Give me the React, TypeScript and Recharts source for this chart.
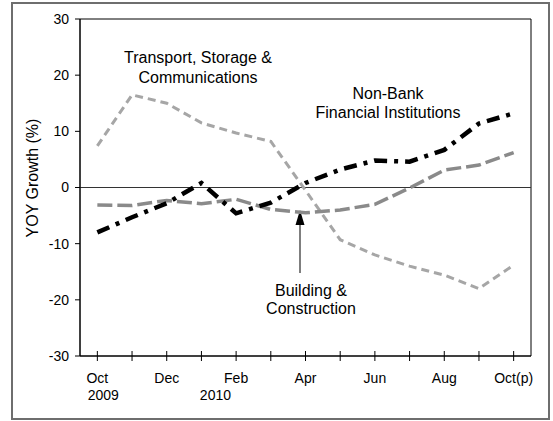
import {
  LineChart,
  Line,
  XAxis,
  YAxis,
  ReferenceLine,
  ReferenceArea,
  Customized,
} from 'recharts';

const months = ['Oct', 'Nov', 'Dec', 'Jan', 'Feb', 'Mar', 'Apr', 'May', 'Jun', 'Jul', 'Aug', 'Sep', 'Oct(p)'];
const transport = [7.4, 16.5, 15.0, 11.5, 9.7, 8.2, -0.5, -9.3, -12.0, -14.0, -15.6, -18.0, -13.8];
const building = [-3.1, -3.2, -2.3, -2.9, -2.1, -3.9, -4.5, -4.0, -3.0, -0.1, 3.1, 4.0, 6.2];
const nonBank = [-8.0, -5.3, -2.8, 0.8, -4.6, -2.7, 0.8, 3.2, 4.8, 4.6, 6.7, 11.4, 13.2];
const yTicks = [-30, -20, -10, 0, 10, 20, 30];
// year labels shown under a given month index, with a small horizontal nudge
const years: Record<number, { label: string; dx: number }> = {
  0: { label: '2009', dx: 6 },
  3: { label: '2010', dx: 14 },
};

const data = months.map((m, i) => ({
  month: m,
  transport: transport[i],
  building: building[i],
  nonBank: nonBank[i],
}));

const FONT = '"Liberation Sans", Arial, sans-serif';

function MonthTick(props: any) {
  const { x, y, payload } = props;
  const i = payload.index;
  const year = years[i];
  return (
    <g>
      <line x1={x} x2={x} y1={y - 5} y2={y + 5} stroke="#000" />
      {i % 2 === 0 && (
        <text x={x} y={y + 27} textAnchor="middle" fontSize={14} fill="#000" fontFamily={FONT}>
          {payload.value}
        </text>
      )}
      {year && (
        <text x={x + year.dx} y={y + 44} textAnchor="middle" fontSize={14} fill="#000" fontFamily={FONT}>
          {year.label}
        </text>
      )}
    </g>
  );
}

function Annotations() {
  const t = { fontSize: 16, fill: '#000', fontFamily: FONT, textAnchor: 'middle' as const };
  return (
    <g>
      <text x={198} y={63} {...t}>Transport, Storage &amp;</text>
      <text x={198} y={83} {...t}>Communications</text>
      <text x={388} y={99} {...t}>Non-Bank</text>
      <text x={388} y={118} {...t}>Financial Institutions</text>
      <text x={311} y={296} {...t}>Building &amp;</text>
      <text x={311} y={314} {...t}>Construction</text>
      <line x1={300} x2={300} y1={222} y2={273} stroke="#555" strokeWidth={1.5} />
      <polygon points="300,210 295.5,225 304.5,225" fill="#000" />
      <text x={38} y={178} transform="rotate(-90 38 178)" {...t}>
        YOY Growth (%)
      </text>
    </g>
  );
}

export default function App() {
  return (
    <div style={{ position: 'absolute', left: 0, top: 0, width: 553, height: 421, fontFamily: FONT }}>
      <div
        style={{
          position: 'absolute',
          left: 11,
          top: 2,
          width: 535,
          height: 414,
          border: '2px solid #6e6e6e',
        }}
      />
      <LineChart
        width={553}
        height={421}
        data={data}
        margin={{ top: 19, right: 22, bottom: 20, left: 20 }}
        style={{ position: 'absolute', left: 0, top: 0 }}
      >
        <XAxis
          dataKey="month"
          scale="band"
          interval={0}
          height={45}
          tickSize={0}
          tickMargin={0}
          tickLine={false}
          axisLine={{ stroke: '#000' }}
          tick={<MonthTick />}
        />
        <YAxis
          domain={[-30, 30]}
          ticks={yTicks}
          width={60}
          tickSize={5}
          tickMargin={6}
          axisLine={{ stroke: '#000' }}
          tickLine={{ stroke: '#000' }}
          tick={{ fill: '#000', fontSize: 14, fontFamily: FONT }}
        />
        <ReferenceArea y1={-30} y2={30} fill="none" stroke="#000" strokeOpacity={1} fillOpacity={0} />
        <ReferenceLine y={0} stroke="#333" />
        <Line
          type="linear"
          dataKey="transport"
          stroke="#a6a6a6"
          strokeWidth={3}
          strokeDasharray="8 5"
          dot={false}
          activeDot={false}
          isAnimationActive={false}
        />
        <Line
          type="linear"
          dataKey="building"
          stroke="#8a8a8a"
          strokeWidth={3.5}
          strokeDasharray="15 5"
          dot={false}
          activeDot={false}
          isAnimationActive={false}
        />
        <Line
          type="linear"
          dataKey="nonBank"
          stroke="#000"
          strokeWidth={4.5}
          strokeDasharray="13 7 4 7"
          dot={false}
          activeDot={false}
          isAnimationActive={false}
        />
        <Customized component={<Annotations />} />
      </LineChart>
    </div>
  );
}
